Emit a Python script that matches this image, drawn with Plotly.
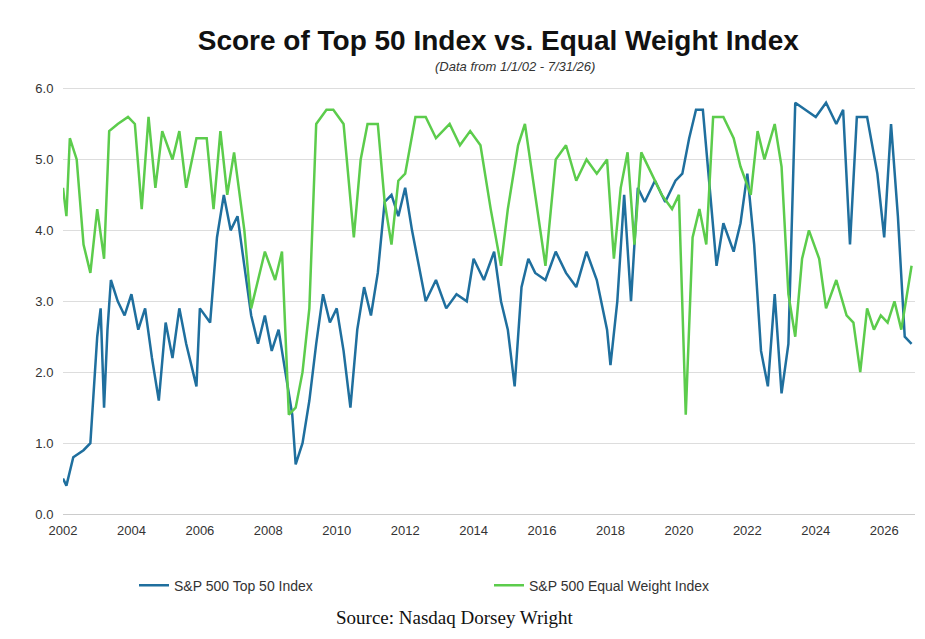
import plotly.graph_objects as go

top50_x = [2002.0, 2002.1, 2002.3, 2002.6, 2002.8, 2003.0, 2003.1, 2003.2, 2003.3, 2003.4, 2003.6, 2003.8,
           2004.0, 2004.2, 2004.4, 2004.6, 2004.8, 2005.0, 2005.2, 2005.4, 2005.6, 2005.9, 2006.0, 2006.3,
           2006.5, 2006.7, 2006.9, 2007.1, 2007.3, 2007.5, 2007.7, 2007.9, 2008.1, 2008.3, 2008.5, 2008.7,
           2008.8, 2009.0, 2009.2, 2009.4, 2009.6, 2009.8, 2010.0, 2010.2, 2010.4, 2010.6, 2010.8, 2011.0,
           2011.2, 2011.4, 2011.6, 2011.8, 2012.0, 2012.2, 2012.4, 2012.6, 2012.9, 2013.2, 2013.5, 2013.8,
           2014.0, 2014.3, 2014.6, 2014.8, 2015.0, 2015.2, 2015.4, 2015.6, 2015.8, 2016.1, 2016.4, 2016.7,
           2017.0, 2017.3, 2017.6, 2017.9, 2018.0, 2018.2, 2018.4, 2018.6, 2018.8, 2019.0, 2019.3, 2019.6,
           2019.9, 2020.1, 2020.3, 2020.5, 2020.7, 2020.9, 2021.1, 2021.3, 2021.6, 2021.8, 2022.0, 2022.2,
           2022.4, 2022.6, 2022.8, 2023.0, 2023.2, 2023.4, 2023.7, 2024.0, 2024.3, 2024.6, 2024.8, 2025.0,
           2025.2, 2025.5, 2025.8, 2026.0, 2026.2, 2026.4, 2026.6, 2026.8]
top50_y = [0.5, 0.4, 0.8, 0.9, 1.0, 2.5, 2.9, 1.5, 2.6, 3.3, 3.0, 2.8,
           3.1, 2.6, 2.9, 2.2, 1.6, 2.7, 2.2, 2.9, 2.4, 1.8, 2.9, 2.7,
           3.9, 4.5, 4.0, 4.2, 3.5, 2.8, 2.4, 2.8, 2.3, 2.6, 2.0, 1.4,
           0.7, 1.0, 1.6, 2.4, 3.1, 2.7, 2.9, 2.3, 1.5, 2.6, 3.2, 2.8,
           3.4, 4.4, 4.5, 4.2, 4.6, 4.0, 3.5, 3.0, 3.3, 2.9, 3.1, 3.0,
           3.6, 3.3, 3.7, 3.0, 2.6, 1.8, 3.2, 3.6, 3.4, 3.3, 3.7, 3.4,
           3.2, 3.7, 3.3, 2.6, 2.1, 3.0, 4.5, 3.0, 4.6, 4.4, 4.7, 4.4,
           4.7, 4.8, 5.3, 5.7, 5.7, 4.6, 3.5, 4.1, 3.7, 4.1, 4.8, 3.8,
           2.3, 1.8, 3.1, 1.7, 2.4, 5.8, 5.7, 5.6, 5.8, 5.5, 5.7, 3.8,
           5.6, 5.6, 4.8, 3.9, 5.5, 4.2, 2.5, 2.4]

ew_x = [2002.0, 2002.1, 2002.2, 2002.4, 2002.6, 2002.8, 2003.0, 2003.2, 2003.35, 2003.6, 2003.9, 2004.1,
        2004.3, 2004.5, 2004.7, 2004.9, 2005.2, 2005.4, 2005.6, 2005.9, 2006.2, 2006.4, 2006.6, 2006.8,
        2007.0, 2007.3, 2007.5, 2007.7, 2007.9, 2008.2, 2008.4, 2008.6, 2008.8, 2009.0, 2009.2, 2009.4,
        2009.7, 2009.9, 2010.2, 2010.5, 2010.7, 2010.9, 2011.2, 2011.4, 2011.6, 2011.8, 2012.0, 2012.3,
        2012.6, 2012.9, 2013.3, 2013.6, 2013.9, 2014.2, 2014.5, 2014.8, 2015.0, 2015.3, 2015.5, 2015.8,
        2016.1, 2016.4, 2016.7, 2017.0, 2017.3, 2017.6, 2017.9, 2018.1, 2018.3, 2018.5, 2018.7, 2018.9,
        2019.2, 2019.5, 2019.8, 2020.0, 2020.2, 2020.4, 2020.6, 2020.8, 2021.0, 2021.3, 2021.6, 2021.8,
        2022.1, 2022.3, 2022.5, 2022.8, 2023.0, 2023.2, 2023.4, 2023.6, 2023.8, 2024.1, 2024.3, 2024.6,
        2024.9, 2025.1, 2025.3, 2025.5, 2025.7, 2025.9, 2026.1, 2026.3, 2026.5, 2026.7, 2026.8]
ew_y = [4.6, 4.2, 5.3, 5.0, 3.8, 3.4, 4.3, 3.6, 5.4, 5.5, 5.6, 5.5,
        4.3, 5.6, 4.6, 5.4, 5.0, 5.4, 4.6, 5.3, 5.3, 4.3, 5.4, 4.5,
        5.1, 4.0, 2.9, 3.3, 3.7, 3.3, 3.7, 1.4, 1.5, 2.0, 2.9, 5.5,
        5.7, 5.7, 5.5, 3.9, 5.0, 5.5, 5.5, 4.4, 3.8, 4.7, 4.8, 5.6,
        5.6, 5.3, 5.5, 5.2, 5.4, 5.2, 4.3, 3.5, 4.3, 5.2, 5.5, 4.5,
        3.5, 5.0, 5.2, 4.7, 5.0, 4.8, 5.0, 3.6, 4.6, 5.1, 3.8, 5.1,
        4.8, 4.5, 4.3, 4.5, 1.4, 3.9, 4.3, 3.8, 5.6, 5.6, 5.3, 4.9,
        4.5, 5.4, 5.0, 5.5, 4.9, 3.1, 2.5, 3.6, 4.0, 3.6, 2.9, 3.3,
        2.8, 2.7, 2.0, 2.9, 2.6, 2.8, 2.7, 3.0, 2.6, 3.2, 3.5]

year_ticks = list(range(2002, 2027, 2))

fig = go.Figure()
fig.add_trace(go.Scatter(x=top50_x, y=top50_y, mode="lines", name="S&P 500 Top 50 Index",
                         line=dict(color="#1f6f9e", width=2.5)))
fig.add_trace(go.Scatter(x=ew_x, y=ew_y, mode="lines", name="S&P 500 Equal Weight Index",
                         line=dict(color="#5ccc4c", width=2.5)))

fig.update_layout(
    width=925, height=639,
    margin=dict(l=55, r=18, t=77, b=133),
    paper_bgcolor="white", plot_bgcolor="white",
    font=dict(family="Liberation Sans, Arial", size=13, color="#333"),
    title=dict(text="<b>Score of Top 50 Index vs. Equal Weight Index</b>", x=0.53, y=0.965,
               xanchor="center", yanchor="top", font=dict(size=28, color="#111")),
    legend=dict(orientation="h", x=0.5, xanchor="center", y=-0.13, yanchor="top",
                font=dict(size=14), entrywidth=310),
    xaxis=dict(range=[2002, 2026.9], tickvals=year_ticks, ticktext=[str(y) for y in year_ticks],
               showgrid=False, showline=True, linecolor="#ccc", zeroline=False,
               ticks="outside", tickcolor="white", ticklen=4),
    yaxis=dict(range=[0, 6.05], tickvals=[0, 1, 2, 3, 4, 5, 6], tickformat=".1f",
               showgrid=True, gridcolor="#ddd", zeroline=False,
               ticks="outside", tickcolor="white", ticklen=6),
)
fig.add_annotation(text="<i>(Data from 1/1/02 - 7/31/26)</i>", xref="paper", yref="paper",
                   x=0.53, y=1.065, showarrow=False, font=dict(size=13, color="#333"))
fig.add_annotation(text="Source: Nasdaq Dorsey Wright", xref="paper", yref="paper",
                   x=0.46, y=-0.27, showarrow=False,
                   font=dict(family="Liberation Serif", size=19, color="#111"))

fig.write_html("out.html")
